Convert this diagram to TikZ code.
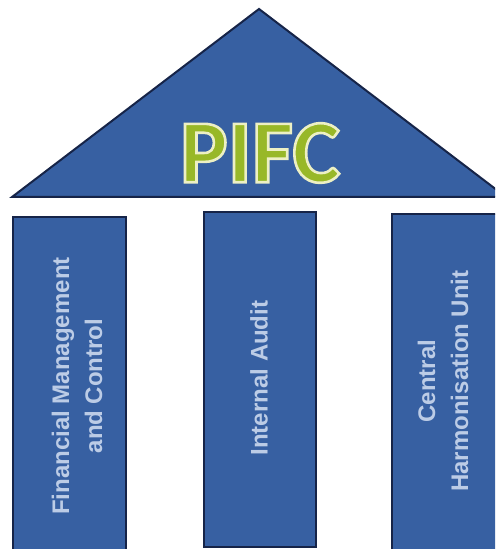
\documentclass[tikz,border=0pt]{standalone}
\usepackage{fontspec}
\usepackage{tikz}
\usetikzlibrary{positioning}
\newfontfamily\pifcfont{Carlito}
\newfontfamily\pillarfont{Liberation Sans}
\definecolor{roofblue}{RGB}{55,96,162}
\definecolor{edgenavy}{RGB}{22,36,72}
\definecolor{pifcgreen}{RGB}{152,184,40}
\definecolor{labelblue}{RGB}{188,204,230}
% light outline round the title letters
\newcommand{\glowtext}[1]{\special{pdf:literal direct 2 Tr 1.3 w 0.93 0.94 0.77 RG}#1\special{pdf:literal direct 0 Tr 0.4 w}}

\begin{document}
\begin{tikzpicture}[x=0.5pt,y=-0.5pt,
  pillar/.style={fill=roofblue,draw=edgenavy,line width=1pt},
  pillarlabel/.style={rotate=90,align=center,text=labelblue,font=\pillarfont\bfseries\fontsize{12}{16.5}\selectfont},
  pifcstyle/.style={font=\pifcfont\bfseries\fontsize{45}{45}\selectfont,inner sep=0pt}]
  \useasboundingbox (0,0) rectangle (495,549);
  \begin{scope}
  \clip (0,0) rectangle (495,549);
  % roof
  \draw[pillar] (12,197) -- (259,9) -- (506,197) -- cycle;
  % pillars
  \draw[pillar] (13,217) rectangle (126,560);
  \draw[pillar] (204,212) rectangle (316,547);
  \draw[pillar] (392,214) rectangle (520,560);
  \end{scope}
  % labels
  \node[pillarlabel] (fmc) at (77,386) {Financial Management\\and Control};
  \node[pillarlabel] (ia) at (259,378) {Internal Audit};
  \node[pillarlabel] (chu) at (443,381) {Central\\Harmonisation Unit};
  % title
  \node[pifcstyle,text=pifcgreen] (pifc) at (260,153) {\glowtext{PIFC}};
\end{tikzpicture}
\end{document}
